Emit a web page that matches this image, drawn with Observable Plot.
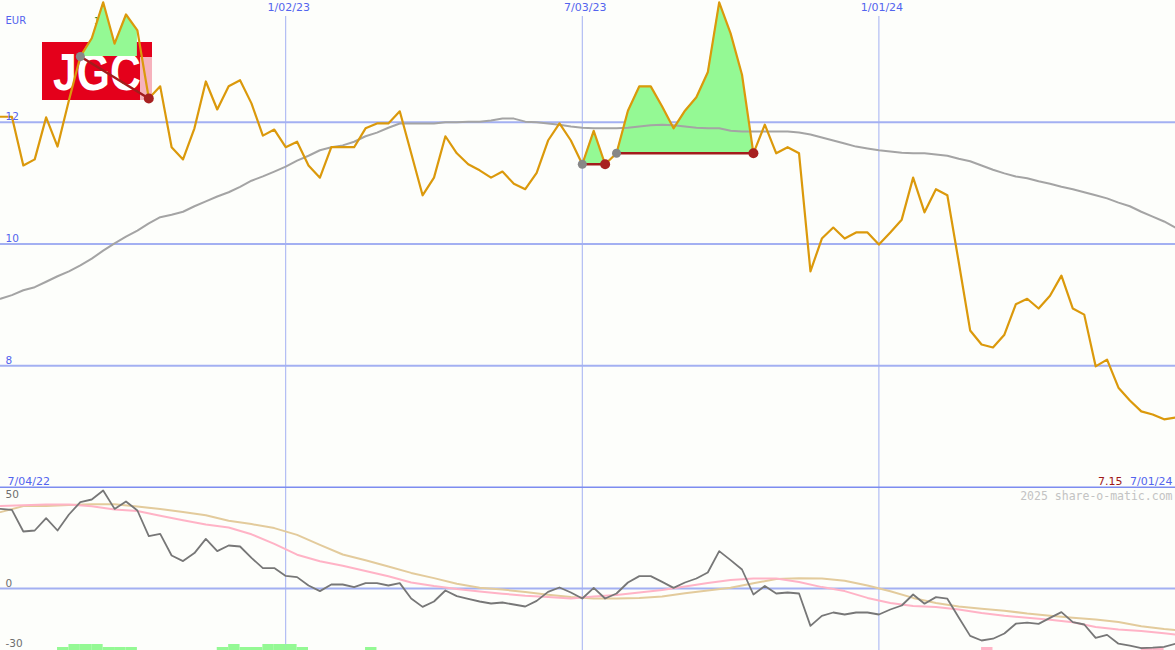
<!DOCTYPE html>
<html><head><meta charset="utf-8">
<script src="https://cdn.jsdelivr.net/npm/d3@7"></script>
<script src="https://cdn.jsdelivr.net/npm/@observablehq/plot@0.6"></script>
<style>
html,body{margin:0;padding:0;background:#fdfefb;}
#chart{position:relative;width:1175px;height:650px;overflow:hidden;background:#fdfefb;}
#chart svg{display:block;position:absolute;left:0;}
</style></head><body><div id="chart"></div>
<script>
// ---- data (weekly closes, EUR) ----
const firstWeek = "2022-07-11";
const closes = [12.09,12.09,11.29,11.39,12.08,11.60,12.36,13.08,13.38,13.97,
13.29,13.77,13.51,12.39,12.59,11.59,11.39,11.90,12.67,12.21,
12.59,12.69,12.31,11.78,11.88,11.59,11.68,11.29,11.09,11.59,
11.59,11.59,11.90,11.98,11.98,12.18,11.49,10.80,11.09,11.77,
11.49,11.31,11.21,11.09,11.19,10.99,10.90,11.17,11.70,11.98,
11.70,11.31,11.86,11.31,11.49,12.19,12.59,12.59,12.26,11.90,
12.19,12.41,12.82,13.97,13.46,12.78,11.49,11.96,11.49,11.59,
11.49,9.55,10.09,10.27,10.09,10.19,10.19,9.99,10.19,10.40,
11.09,10.52,10.90,10.80,9.70,8.58,8.35,8.30,8.51,9.01,
9.10,8.94,9.15,9.48,8.94,8.84,7.99,8.10,7.64,7.43,
7.25,7.20,7.12,7.15];
const average = [9.10,9.16,9.24,9.29,9.38,9.47,9.55,9.65,9.76,9.89,
10.01,10.12,10.22,10.34,10.44,10.48,10.53,10.62,10.70,10.78,
10.85,10.94,11.04,11.11,11.19,11.27,11.37,11.45,11.54,11.59,
11.62,11.68,11.77,11.83,11.91,11.98,11.98,11.98,11.98,12.00,
12.00,12.01,12.01,12.03,12.06,12.06,12.01,12.00,11.98,11.96,
11.93,11.91,11.90,11.90,11.90,11.91,11.93,11.95,11.96,11.95,
11.93,11.91,11.90,11.90,11.86,11.85,11.85,11.85,11.85,11.85,
11.83,11.80,11.75,11.70,11.65,11.60,11.57,11.54,11.52,11.50,
11.49,11.49,11.47,11.45,11.40,11.36,11.29,11.22,11.16,11.11,
11.08,11.03,10.99,10.94,10.90,10.85,10.80,10.75,10.68,10.62,
10.53,10.45,10.37,10.27];
const oscillator = [39.8,39.3,28.5,29,35.2,29,37,43.2,44.5,49,
39.8,43.5,39,26.2,27.3,16.5,13.7,17.7,24.8,18.7,
21.5,21,15.3,10.2,10.2,6.3,5.7,1.5,-1.3,2,
2,0.7,2.7,2.7,1.5,2.7,-5,-9.2,-6.5,-1,
-3.8,-5.2,-6.5,-7.5,-7,-8,-9,-6.2,-1.7,0.5,
-2,-5,0.3,-5,-2.5,3,6.2,6.2,3.3,0.3,
3,5,8,18.7,14.2,9.5,-3,1.3,-2.5,-2,
-2.5,-18.7,-13.7,-12,-13,-12,-12,-13,-10.5,-8.5,
-3,-7.6,-4.3,-5.1,-14.5,-23.7,-26,-25.1,-22.5,-17.6,
-17.1,-17.7,-14.7,-11.8,-16.8,-18,-24.7,-23.2,-27.6,-28.6,
-29.8,-29.6,-29.2,-27.6];
// smoothed lines, read every second week (+ last week)
const smoothWeeks = [0,2,4,6,8,10,12,14,16,18,20,22,24,26,28,30,32,34,36,38,40,42,44,46,48,50,
52,54,56,58,60,62,64,66,68,70,72,74,76,78,80,82,84,86,88,90,92,94,96,98,100,102,103];
const pinkLine = [41.2,41.6,42.0,42.0,41.1,39.5,38.7,36.4,34.1,32.0,30.5,27.1,22.3,16.9,13.6,11.4,8.8,6.1,3.0,1.2,-0.3,-1.5,-2.6,-3.6,-4.3,-5.0,
-4.0,-3.2,-2.0,-0.7,1.0,2.7,4.3,5.0,5.0,3.3,0.7,-1.3,-4.7,-7.2,-8.8,-9.3,-10.5,-12.2,-13.6,-14.6,-15.6,-16.9,-19.2,-20.5,-21.3,-22.4,-23];
const tanLine = [38.2,41.2,41.3,41.8,42.1,42.1,41.0,39.7,38.3,36.6,33.9,32.2,30.2,26.8,21.8,17.0,14.1,11.0,7.8,5.2,2.4,0.4,-0.5,-1.8,-3.1,-4.3,
-5.0,-5.0,-4.8,-4.0,-2.4,-1.0,0.4,2.6,4.7,5.1,5.0,3.9,1.5,-1.4,-4.7,-7.2,-9.0,-10.1,-11.1,-12.5,-13.6,-14.6,-15.5,-16.8,-18.9,-20.3,-20.8];
// trades (week indices)
const tradeEntry = [7, 51, 54];
const tradeExit = [13, 53, 66];
const tradeFillEnd = [12, 53, 66];
// signal bars at the bottom of the oscillator panel
const buyBarWeeks = [5,6,7,8,9,10,11,19,20,21,22,23,24,25,26,32];
const buyBarLevel = [1.5,3,3,3,1.5,1.5,1.5,1.5,3,1.5,1.5,3,3,3,1.5,1.5];
const sellBarWeeks = [86,100,101];
const sellBarLevel = [1.5,1.5,1.5];
// ticks
const tickDates = ["2023-01-02","2023-07-03","2024-01-01"];
const tickLabels = ["1/02/23","7/03/23","1/01/24"];
const priceTicks = [12, 10, 8];
const oscTopTick = [50];
const oscLowTicks = [0, -30];
const lastPrice = "7.15";
const startLabel = "7/04/22";
const endLabel = "7/01/24";

// ---- build ----
const t0 = new Date(firstWeek + "T00:00:00Z").getTime();
const weeks = closes.map((_, i) => new Date(t0 + i * 7 * 864e5));
const xDomain = [weeks[0], weeks[weeks.length - 1]];
const tickD = tickDates.map(s => new Date(s + "T00:00:00Z"));
const grid = "#a3b0f2";
const labelBlue = "#5364ee";
const font = "DejaVu Sans, sans-serif";

const priceRows = weeks.map((d, i) => ({d, v: closes[i], a: average[i]}));
const fillRows = [];
tradeEntry.forEach((e, k) => {
  const base = closes[e];
  for (let i = e; i <= tradeFillEnd[k]; i++) fillRows.push({d: weeks[i], base, v: Math.max(closes[i], base), trade: k});
});
const trades = tradeEntry.map((e, k) => ({
  d1: weeks[e], p1: closes[e], d2: weeks[tradeExit[k]], p2: closes[tradeExit[k]]
}));

const logoMark = () => {
  const g = d3.create("svg:g");
  g.append("rect").attr("x", 42).attr("y", 42).attr("width", 110).attr("height", 58).attr("fill", "#e4001b");
  g.append("rect").attr("x", 140).attr("y", 57).attr("width", 12).attr("height", 43).attr("fill", "#f6b2bc");
  g.append("text").attr("x", 53).attr("y", 90).attr("text-anchor", "start")
    .attr("textLength", 88).attr("lengthAdjust", "spacingAndGlyphs")
    .attr("font-family", "Liberation Sans, Arial, sans-serif").attr("font-weight", "bold")
    .attr("font-size", 51).attr("fill", "#ffffff").text("JGC");
  return g.node();
};

const topPlot = Plot.plot({
  width: 1175, height: 488,
  marginTop: 0, marginBottom: 1, marginLeft: 0, marginRight: 0,
  x: {type: "utc", domain: xDomain, axis: null},
  y: {domain: [6, 14], axis: null},
  style: {background: "transparent", fontFamily: font},
  marks: [
    Plot.ruleY(priceTicks, {stroke: grid, strokeWidth: 2}),
    Plot.ruleX(tickD, {stroke: grid, strokeWidth: 1, insetTop: 16}),
    logoMark,
    Plot.text(["14"], {x: weeks[8], frameAnchor: "top", dx: 8, dy: 17, fill: "#2f8f2f", fontSize: 9, lineAnchor: "top"}),
    Plot.areaY(fillRows, {x: "d", y1: "base", y2: "v", z: "trade", fill: "#94f994", fillOpacity: 1}),
    Plot.line(priceRows, {x: "d", y: "a", stroke: "#a4a4a4", strokeWidth: 2}),
    Plot.line(priceRows, {x: "d", y: "v", stroke: "#db990b", strokeWidth: 2.2}),
    Plot.link(trades, {x1: "d1", y1: "p1", x2: "d2", y2: "p2", stroke: "#a21c1c", strokeWidth: 2.5}),
    Plot.dot(trades, {x: "d1", y: "p1", r: 4.5, fill: "#878787"}),
    Plot.dot(trades, {x: "d2", y: "p2", r: 5, fill: "#a82020"}),
    Plot.text(["EUR"], {frameAnchor: "top-left", dx: 5, dy: 16, lineAnchor: "top", fill: labelBlue, fontSize: 10}),
    Plot.text(priceTicks, {x: xDomain[0], y: d => d, text: d => String(d), dx: 5, dy: -2, lineAnchor: "bottom", textAnchor: "start", fill: labelBlue, fontSize: 10.5}),
    Plot.text(tickD, {x: d => d, text: (d, i) => tickLabels[i], frameAnchor: "top", dx: 3, dy: 3, lineAnchor: "top", fill: labelBlue, fontSize: 11}),
    Plot.text([startLabel], {frameAnchor: "bottom-left", dx: 7, dy: -3, lineAnchor: "bottom", fill: labelBlue, fontSize: 11}),
    Plot.text([endLabel], {frameAnchor: "bottom-right", dx: -3, dy: -3, lineAnchor: "bottom", fill: labelBlue, fontSize: 11}),
    Plot.text([lastPrice], {frameAnchor: "bottom-right", dx: -53, dy: -3, lineAnchor: "bottom", fill: "#a01818", fontSize: 11}),
    Plot.ruleY([6], {stroke: "#7d8cf0", strokeWidth: 2})
  ]
});

const oscRows = weeks.map((d, i) => ({d, v: oscillator[i]}));
const smoothRows = smoothWeeks.map((w, i) => ({d: weeks[w], p: pinkLine[i], t: tanLine[i]}));
const oscFloor = -31;
const barRows = (ws, lv) => ws.map((w, i) => ({d1: weeks[w], d2: weeks[w + 1], v: oscFloor + lv[i]}));

const bottomPlot = Plot.plot({
  width: 1175, height: 162,
  marginTop: 0, marginBottom: 0, marginLeft: 0, marginRight: 0,
  x: {type: "utc", domain: xDomain, axis: null},
  y: {domain: [oscFloor, 50], axis: null},
  style: {background: "transparent", fontFamily: font},
  marks: [
    Plot.ruleY([0], {stroke: grid, strokeWidth: 2}),
    Plot.ruleX(tickD, {stroke: grid, strokeWidth: 1}),
    Plot.rect(barRows(buyBarWeeks, buyBarLevel), {x1: "d1", x2: "d2", y1: oscFloor, y2: "v", fill: "#94f994"}),
    Plot.rect(barRows(sellBarWeeks, sellBarLevel), {x1: "d1", x2: "d2", y1: oscFloor, y2: "v", fill: "#ffb5c7"}),
    Plot.line(smoothRows, {x: "d", y: "t", stroke: "#e3cb9c", strokeWidth: 2}),
    Plot.line(smoothRows, {x: "d", y: "p", stroke: "#ffb3c6", strokeWidth: 2}),
    Plot.line(oscRows, {x: "d", y: "v", stroke: "#777777", strokeWidth: 1.8}),
    Plot.text(oscTopTick, {x: xDomain[0], y: d => d, text: d => String(d), dx: 5, dy: 2, lineAnchor: "top", textAnchor: "start", fill: "#6e6e6e", fontSize: 10.5}),
    Plot.text(oscLowTicks, {x: xDomain[0], y: d => d, text: d => String(d), dx: 5, dy: -2, lineAnchor: "bottom", textAnchor: "start", fill: "#6e6e6e", fontSize: 10.5}),
    Plot.text(["2025 share-o-matic.com"], {frameAnchor: "top-right", dx: -3, dy: 3, lineAnchor: "top",
      fill: "#c3c3c3", fontSize: 11.5, fontFamily: "DejaVu Sans Mono, monospace"})
  ]
});

const chart = document.getElementById("chart");
topPlot.style.top = "0px";
bottomPlot.style.top = "488px";
chart.append(topPlot, bottomPlot);
</script></body></html>
